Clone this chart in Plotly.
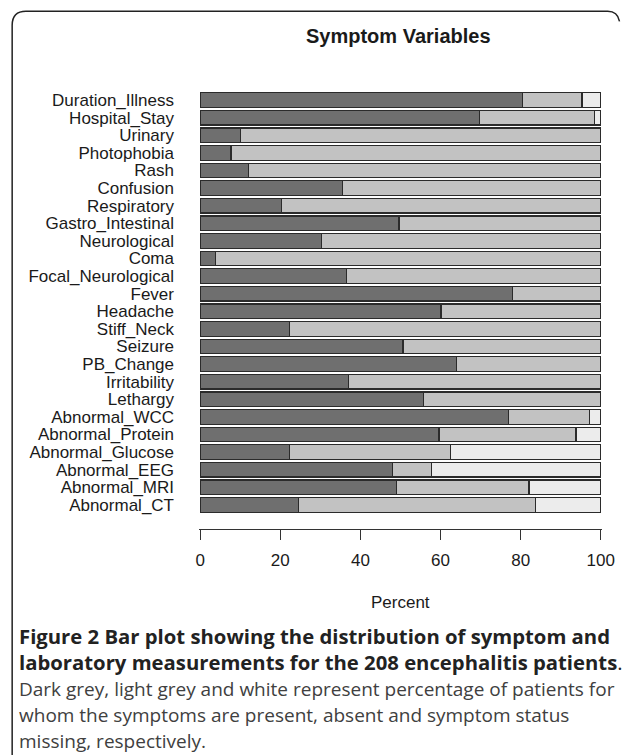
import plotly.graph_objects as go

# ---- data (top to bottom) ----
variables = ["Duration_Illness", "Hospital_Stay", "Urinary", "Photophobia", "Rash",
             "Confusion", "Respiratory", "Gastro_Intestinal", "Neurological", "Coma",
             "Focal_Neurological", "Fever", "Headache", "Stiff_Neck", "Seizure",
             "PB_Change", "Irritability", "Lethargy", "Abnormal_WCC", "Abnormal_Protein",
             "Abnormal_Glucose", "Abnormal_EEG", "Abnormal_MRI", "Abnormal_CT"]
present = [80.4, 69.8, 10.1, 7.7, 12.1, 35.6, 20.2, 49.6, 30.3, 3.9,
           36.5, 78.0, 60.1, 22.2, 50.6, 64.0, 37.0, 55.8, 76.9, 59.6,
           22.2, 48.1, 49.0, 24.6]
absent = [14.9, 28.7, 89.9, 92.3, 87.9, 64.4, 79.8, 50.4, 69.7, 96.1,
          63.5, 22.0, 39.9, 77.8, 49.4, 36.0, 63.0, 44.2, 20.3, 34.2,
          40.3, 9.7, 33.1, 59.1]
missing = [4.7, 1.5, 0, 0, 0, 0, 0, 0, 0, 0,
           0, 0, 0, 0, 0, 0, 0, 0, 2.8, 6.2,
           37.5, 42.2, 17.9, 16.3]
x_ticks = [0, 20, 40, 60, 80, 100]

title_text = "Symptom Variables"
xlabel_text = "Percent"
caption_lines = [
    ("<b>Figure 2 Bar plot showing the distribution of symptom and</b>", True),
    ("<b>laboratory measurements for the 208 encephalitis patients</b>.", True),
    ("Dark grey, light grey and white represent percentage of patients for", False),
    ("whom the symptoms are present, absent and symptom status", False),
    ("missing, respectively.", False),
]

W, H = 627, 755
L, R, T, B = 198.8, 18.8, 75.7, 226.0
PW, PH = W - L - R, H - T - B


def px(xp):
    return (xp - L) / PW


def py(yp):
    return (H - B - yp) / PH


colors = ["#6f6f6f", "#c2c2c2", "#ececec"]
names = ["present", "absent", "missing"]
fig = go.Figure()
for vals, c, n in zip([present, absent, missing], colors, names):
    fig.add_trace(go.Bar(
        y=variables, x=vals, orientation="h", name=n,
        marker=dict(color=c, line=dict(color="#2b2b2b", width=1.2)),
        hoverinfo="x+y",
    ))

fig.update_layout(
    width=W, height=H, autosize=False,
    margin=dict(l=L, r=R, t=T, b=B, pad=0),
    paper_bgcolor="white", plot_bgcolor="white",
    barmode="stack", bargap=1 / 6, showlegend=False,
    font=dict(family="Liberation Sans, Arial, sans-serif", size=17, color="#1a1a1a"),
    xaxis=dict(range=[-0.3, 100.3], tickmode="array", tickvals=x_ticks,
               ticktext=[str(v) for v in x_ticks],
               showgrid=False, zeroline=False, showline=True, linecolor="#333333", linewidth=1,
               ticks="outside", ticklen=10, tickcolor="#333333", tickwidth=1,
               ticklabelstandoff=6, tickfont=dict(size=17, color="#1a1a1a")),
    yaxis=dict(type="category", categoryorder="array", categoryarray=variables,
               tickmode="array", tickvals=variables, ticktext=variables,
               range=[24.37, -1.37], showgrid=False, zeroline=False, showline=False,
               ticks="", ticklabelstandoff=24, tickfont=dict(size=17, color="#1a1a1a")),
)

annotations = [
    dict(text="<b>" + title_text + "</b>", x=px(401), y=py(36), xref="paper", yref="paper",
         xanchor="center", yanchor="middle", showarrow=False,
         font=dict(size=20, color="#1a1a1a", family="Liberation Sans, Arial, sans-serif")),
    dict(text=xlabel_text, x=0.5, y=py(603), xref="paper", yref="paper",
         xanchor="center", yanchor="middle", showarrow=False,
         font=dict(size=17, color="#1a1a1a", family="Liberation Sans, Arial, sans-serif")),
]
cap_y = [636, 662, 689, 715, 741]
for (txt, bold), yy in zip(caption_lines, cap_y):
    annotations.append(dict(
        text=txt, x=px(14), y=py(yy), xref="paper", yref="paper",
        xanchor="left", yanchor="middle", showarrow=False,
        font=dict(size=20.3 if bold else 19, color="#222222" if bold else "#404040",
                  family="Open Sans, Noto Sans, sans-serif")))
fig.update_layout(annotations=annotations)

# rounded frame around the figure panel (its right side is cut off at the page edge)
x0, y0, y1, r = 9, 11, 790, 14
path = (f"M {px(x0)},{py(y1)} L {px(x0)},{py(y0 + r)} "
        f"Q {px(x0)},{py(y0)} {px(x0 + r)},{py(y0)} "
        f"L {px(614)},{py(y0)} Q {px(624)},{py(y0)} {px(626)},{py(y0 + 10)}")
fig.add_shape(type="path", path=path, xref="paper", yref="paper",
              line=dict(color="#222222", width=1.5), layer="above")

fig.write_html(
    "out.html",
    config={"displayModeBar": False, "responsive": False},
    post_script="document.body.style.margin='0';document.body.style.overflow='hidden';"
                "document.documentElement.style.overflow='hidden';",
)
